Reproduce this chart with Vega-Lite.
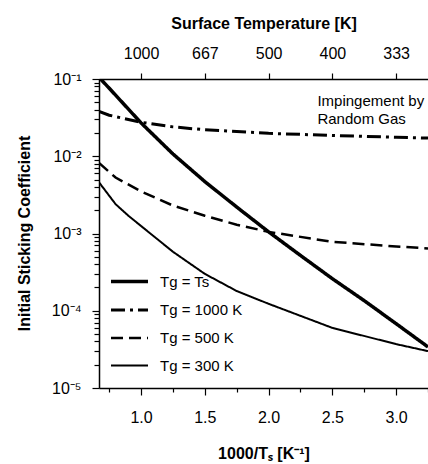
{
  "$schema": "https://vega.github.io/schema/vega-lite/v6.json",
  "width": 329,
  "height": 309,
  "autosize": {"type": "none"},
  "padding": {"left": 99, "top": 79, "right": 0, "bottom": 76},
  "background": "white",
  "config": {
    "view": {"stroke": null},
    "font": "Liberation Sans",
    "axis": {
      "domain": true,
      "ticks": true,
      "domainColor": "black",
      "domainWidth": 1.5,
      "domainOpacity": 1,
      "tickColor": "black",
      "tickWidth": 1.2,
      "tickOpacity": 1,
      "labelColor": "black",
      "titleColor": "black",
      "labelFont": "Liberation Sans",
      "titleFont": "Liberation Sans",
      "labelFontSize": 16,
      "titleFontSize": 16,
      "titleFontWeight": "bold",
      "grid": false,
      "zindex": 1
    },
    "legend": {
      "labelFont": "Liberation Sans",
      "labelFontSize": 15,
      "labelColor": "black"
    }
  },
  "datasets": {
    "curves": [
      {"series": "Tg = Ts", "x": 0.67, "s": 0.105},
      {"series": "Tg = Ts", "x": 0.75, "s": 0.076},
      {"series": "Tg = Ts", "x": 1.0, "s": 0.027},
      {"series": "Tg = Ts", "x": 1.25, "s": 0.0107},
      {"series": "Tg = Ts", "x": 1.5, "s": 0.0047},
      {"series": "Tg = Ts", "x": 1.75, "s": 0.0022},
      {"series": "Tg = Ts", "x": 2.0, "s": 0.00105},
      {"series": "Tg = Ts", "x": 2.25, "s": 0.00052},
      {"series": "Tg = Ts", "x": 2.5, "s": 0.00026},
      {"series": "Tg = Ts", "x": 2.75, "s": 0.000135},
      {"series": "Tg = Ts", "x": 3.0, "s": 0.000068},
      {"series": "Tg = Ts", "x": 3.25, "s": 0.000034},
      {"series": "Tg = 1000 K", "x": 0.67, "s": 0.038},
      {"series": "Tg = 1000 K", "x": 0.75, "s": 0.034},
      {"series": "Tg = 1000 K", "x": 1.0, "s": 0.0275},
      {"series": "Tg = 1000 K", "x": 1.25, "s": 0.024},
      {"series": "Tg = 1000 K", "x": 1.5, "s": 0.022},
      {"series": "Tg = 1000 K", "x": 2.0, "s": 0.0198},
      {"series": "Tg = 1000 K", "x": 2.5, "s": 0.0186},
      {"series": "Tg = 1000 K", "x": 3.0, "s": 0.0176},
      {"series": "Tg = 1000 K", "x": 3.25, "s": 0.0172},
      {"series": "Tg = 500 K", "x": 0.67, "s": 0.0082},
      {"series": "Tg = 500 K", "x": 0.8, "s": 0.0053},
      {"series": "Tg = 500 K", "x": 1.0, "s": 0.0035},
      {"series": "Tg = 500 K", "x": 1.25, "s": 0.0023},
      {"series": "Tg = 500 K", "x": 1.5, "s": 0.0017},
      {"series": "Tg = 500 K", "x": 1.75, "s": 0.0013},
      {"series": "Tg = 500 K", "x": 2.0, "s": 0.00105},
      {"series": "Tg = 500 K", "x": 2.5, "s": 0.00078},
      {"series": "Tg = 500 K", "x": 3.0, "s": 0.00068},
      {"series": "Tg = 500 K", "x": 3.25, "s": 0.00064},
      {"series": "Tg = 300 K", "x": 0.67, "s": 0.0046},
      {"series": "Tg = 300 K", "x": 0.8, "s": 0.0024},
      {"series": "Tg = 300 K", "x": 0.9, "s": 0.0017},
      {"series": "Tg = 300 K", "x": 1.0, "s": 0.00125},
      {"series": "Tg = 300 K", "x": 1.25, "s": 0.00058},
      {"series": "Tg = 300 K", "x": 1.5, "s": 0.0003},
      {"series": "Tg = 300 K", "x": 1.75, "s": 0.00018},
      {"series": "Tg = 300 K", "x": 2.0, "s": 0.000123},
      {"series": "Tg = 300 K", "x": 2.5, "s": 0.00006},
      {"series": "Tg = 300 K", "x": 3.0, "s": 0.000037},
      {"series": "Tg = 300 K", "x": 3.25, "s": 0.00003}
    ],
    "note": [
      {"label": "Impingement by\nRandom Gas", "x": 2.383, "s": 0.0447}
    ]
  },
  "encoding": {
    "y": {
      "field": "s",
      "type": "quantitative",
      "scale": {"type": "log", "domain": [0.00001, 0.1], "nice": false},
      "axis": {
        "title": "Initial Sticking Coefficient",
        "values": [0.00001, 0.00002, 0.00003, 0.00004, 0.00005, 0.00006, 0.00007, 0.00008, 0.00009,
                   0.0001, 0.0002, 0.0003, 0.0004, 0.0005, 0.0006, 0.0007, 0.0008, 0.0009,
                   0.001, 0.002, 0.003, 0.004, 0.005, 0.006, 0.007, 0.008, 0.009,
                   0.01, 0.02, 0.03, 0.04, 0.05, 0.06, 0.07, 0.08, 0.09, 0.1],
        "labelExpr": "abs(log(datum.value)/LN10 - round(log(datum.value)/LN10)) < 0.001 ? '10' + ['⁰','⁻¹','⁻²','⁻³','⁻⁴','⁻⁵'][-round(log(datum.value)/LN10)] : ''",
        "tickSize": {"condition": {"test": "abs(log(datum.value)/LN10 - round(log(datum.value)/LN10)) < 0.001", "value": 7}, "value": 5},
        "domainColor": "black",
        "labelFontSize": 16,
        "labelPadding": 11,
        "titleX": -75,
        "titleY": 154,
        "titleAngle": -90,
        "titleAlign": "center",
        "titleBaseline": "middle",
        "labelFlush": false
      }
    }
  },
  "layer": [
    {
      "data": {"name": "curves"},
      "mark": {"type": "line", "clip": true, "color": "black", "strokeCap": "butt"},
      "encoding": {
        "x": {
          "field": "x",
          "type": "quantitative",
          "scale": {"domain": [0.67, 3.25], "nice": false, "zero": false},
          "axis": {
            "orient": "bottom",
            "title": "1000/Tₛ [K⁻¹]",
            "values": [0.75, 1, 1.25, 1.5, 1.75, 2, 2.25, 2.5, 2.75, 3, 3.25],
            "labelExpr": "datum.value % 0.5 == 0 ? format(datum.value, '.1f') : ''",
            "tickSize": {"condition": {"test": "datum.value % 0.5 == 0", "value": 7}, "value": 4},
            "domainColor": "black",
            "labelPadding": 14,
            "titlePadding": 20,
            "labelFlush": false
          }
        },
        "strokeDash": {
          "field": "series",
          "type": "nominal",
          "scale": {
            "domain": ["Tg = Ts", "Tg = 1000 K", "Tg = 500 K", "Tg = 300 K"],
            "range": [[1, 0], [14, 5, 3, 5], [12, 6], [1, 0]]
          },
          "legend": {
            "title": null,
            "orient": "none",
            "legendX": 10,
            "legendY": 182,
            "symbolType": "stroke",
            "symbolSize": 1369,
            "symbolStrokeColor": "black",
            "labelOffset": 10,
            "rowPadding": -7,
            "labelLimit": 200
          }
        },
        "strokeWidth": {
          "field": "series",
          "type": "nominal",
          "scale": {
            "domain": ["Tg = Ts", "Tg = 1000 K", "Tg = 500 K", "Tg = 300 K"],
            "range": [3.5, 2, 2, 1]
          },
          "legend": {
            "title": null,
            "orient": "none",
            "legendX": 10,
            "legendY": 182,
            "symbolType": "stroke",
            "symbolSize": 1369,
            "symbolStrokeColor": "black",
            "labelOffset": 10,
            "rowPadding": -7,
            "labelLimit": 200
          }
        }
      }
    },
    {
      "data": {"name": "note"},
      "mark": {"type": "text", "align": "left", "baseline": "alphabetic", "fontSize": 15, "lineBreak": "\n", "lineHeight": 18, "color": "black", "font": "Liberation Sans"},
      "encoding": {
        "text": {"field": "label"},
        "x": {
          "field": "x",
          "type": "quantitative",
          "axis": {
            "orient": "top",
            "title": "Surface Temperature [K]",
            "values": [1, 1.5, 2, 2.5, 3],
            "labelExpr": "format(1000/datum.value, '.0f')",
            "tickSize": 6,
            "labelPadding": 12,
            "titlePadding": 14,
            "labelFlush": false
          }
        }
      }
    }
  ],
  "resolve": {"axis": {"x": "independent"}}
}
